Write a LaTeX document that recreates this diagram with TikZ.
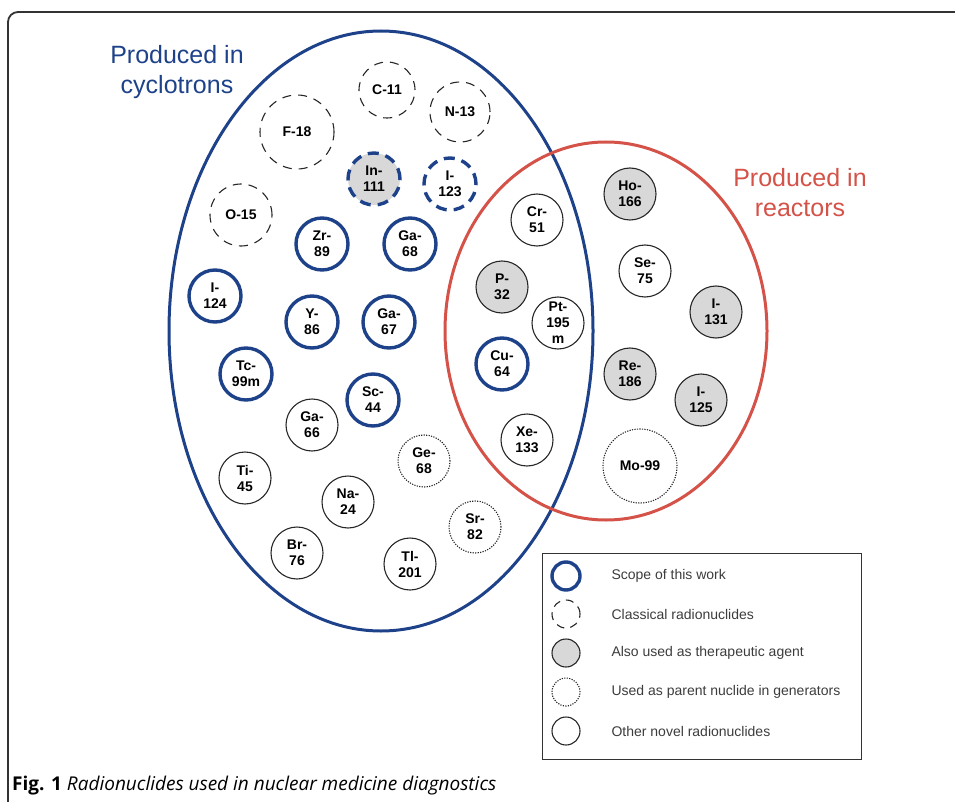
\documentclass[tikz,border=0pt]{standalone}
\usepackage{fontspec}
\setmainfont{Liberation Sans}
\newfontfamily\captionfont{Open Sans}
\usepackage{xcolor}
\usetikzlibrary{shapes.geometric}
\definecolor{cycloblue}{RGB}{30,66,138}
\definecolor{reactorred}{RGB}{212,82,72}
\definecolor{therapygray}{RGB}{216,216,216}
\definecolor{legendgray}{RGB}{60,60,60}
\tikzset{
    nuclide/.style = {circle, draw=black!85, line width=1.1pt, minimum size=52pt, inner sep=0pt,
        align=center, font=\fontsize{14}{16}\selectfont\bfseries},
    scope/.style = {draw=cycloblue, line width=3.4pt},
    classical/.style = {dash pattern=on 9pt off 7pt},
    therapeutic/.style = {fill=therapygray},
    parent/.style = {dash pattern=on 1.2pt off 1.3pt, line width=1.1pt},
    other/.style = {},
    region/.style = {ellipse, line width=3pt, inner sep=0pt},
    regionlabel/.style = {align=center, font=\fontsize{25}{30}\selectfont},
    legendmark/.style = {nuclide, minimum size=28pt},
    legendtext/.style = {anchor=west, text=legendgray, font=\fontsize{14}{16}\selectfont}
}

\begin{document}
\begin{tikzpicture}[x=1pt, y=-1pt]
    \useasboundingbox (0,0) rectangle (955,802);
    % frame
    \draw[line width=1.8pt, black!80, rounded corners=10pt] (8,12) rectangle (980,820);

    % the two production routes
    \node[region, draw=cycloblue, minimum width=424pt, minimum height=600pt] (cyclotron) at (381,331) {};
    \node[region, draw=reactorred, minimum width=322pt, minimum height=378pt] (reactor) at (606,331) {};
    \node[regionlabel, text=cycloblue] (cyclolabel) at (177,72) {Produced in\\cyclotrons};
    \node[regionlabel, text=reactorred] (reactorlabel) at (800,193) {Produced in\\reactors};

    % cyclotrons only
    \node[nuclide, classical, minimum size=56pt] (c11) at (387,90) {C-11};
    \node[nuclide, classical, minimum size=60pt] (n13) at (460,112) {N-13};
    \node[nuclide, classical, minimum size=74pt] (f18) at (297,132) {F-18};
    \node[nuclide, classical, minimum size=62pt] (o15) at (241,215) {O-15};
    \node[nuclide, scope, classical, therapeutic, dash pattern=on 11pt off 7pt] (in111) at (374,179) {In-\\111};
    \node[nuclide, scope, classical, dash pattern=on 11pt off 7pt] (i123) at (450,184) {I-\\123};
    \node[nuclide, scope] (zr89) at (322,244) {Zr-\\89};
    \node[nuclide, scope] (ga68) at (410,244) {Ga-\\68};
    \node[nuclide, scope] (i124) at (215,296) {I-\\124};
    \node[nuclide, scope] (y86) at (312,322) {Y-\\86};
    \node[nuclide, scope] (ga67) at (389,322) {Ga-\\67};
    \node[nuclide, scope] (tc99m) at (246,374) {Tc-\\99m};
    \node[nuclide, scope] (sc44) at (373,400) {Sc-\\44};
    \node[nuclide, other] (ga66) at (312,425) {Ga-\\66};
    \node[nuclide, parent] (ge68) at (424,461) {Ge-\\68};
    \node[nuclide, other] (ti45) at (245,478) {Ti-\\45};
    \node[nuclide, other] (na24) at (348,502) {Na-\\24};
    \node[nuclide, parent] (sr82) at (475,527) {Sr-\\82};
    \node[nuclide, other] (br76) at (297,553) {Br-\\76};
    \node[nuclide, other] (tl201) at (410,564) {Tl-\\201};

    % both routes
    \node[nuclide, other] (cr51) at (537,220) {Cr-\\51};
    \node[nuclide, therapeutic] (p32) at (502,287) {P-\\32};
    \node[nuclide, other] (pt195m) at (558,323) {Pt-\\195\\m};
    \node[nuclide, scope] (cu64) at (502,364) {Cu-\\64};
    \node[nuclide, other] (xe133) at (527,440) {Xe-\\133};

    % reactors only
    \node[nuclide, therapeutic] (ho166) at (630,194) {Ho-\\166};
    \node[nuclide, other] (se75) at (645,271) {Se-\\75};
    \node[nuclide, therapeutic] (i131) at (716,312) {I-\\131};
    \node[nuclide, therapeutic] (re186) at (630,374) {Re-\\186};
    \node[nuclide, therapeutic] (i125) at (701,400) {I-\\125};
    \node[nuclide, parent, minimum size=74pt] (mo99) at (640,466) {Mo-99};

    % legend
    \node[draw=black!80, line width=1pt, minimum width=319pt, minimum height=206pt, inner sep=0pt] (legend) at (701.5,656) {};
    \node[legendmark, scope] (keyscope) at (566,576) {};
    \node[legendmark, classical, dash pattern=on 8pt off 6pt] (keyclassical) at (566,614) {};
    \node[legendmark, therapeutic] (keytherapy) at (566,653) {};
    \node[legendmark, parent] (keyparent) at (566,692) {};
    \node[legendmark, other] (keyother) at (566,731) {};
    \node[legendtext] at (608,576) {Scope of this work};
    \node[legendtext] at (608,614) {Classical radionuclides};
    \node[legendtext] at (608,653) {Also used as therapeutic agent};
    \node[legendtext] at (608,692) {Used as parent nuclide in generators};
    \node[legendtext] at (608,731) {Other novel radionuclides};

    % caption
    \node[anchor=base west, inner sep=0pt, font=\captionfont\fontsize{19}{22}\selectfont] (caption) at (12,790)
        {\textbf{Fig. 1} \textit{Radionuclides used in nuclear medicine diagnostics}};
\end{tikzpicture}
\end{document}
